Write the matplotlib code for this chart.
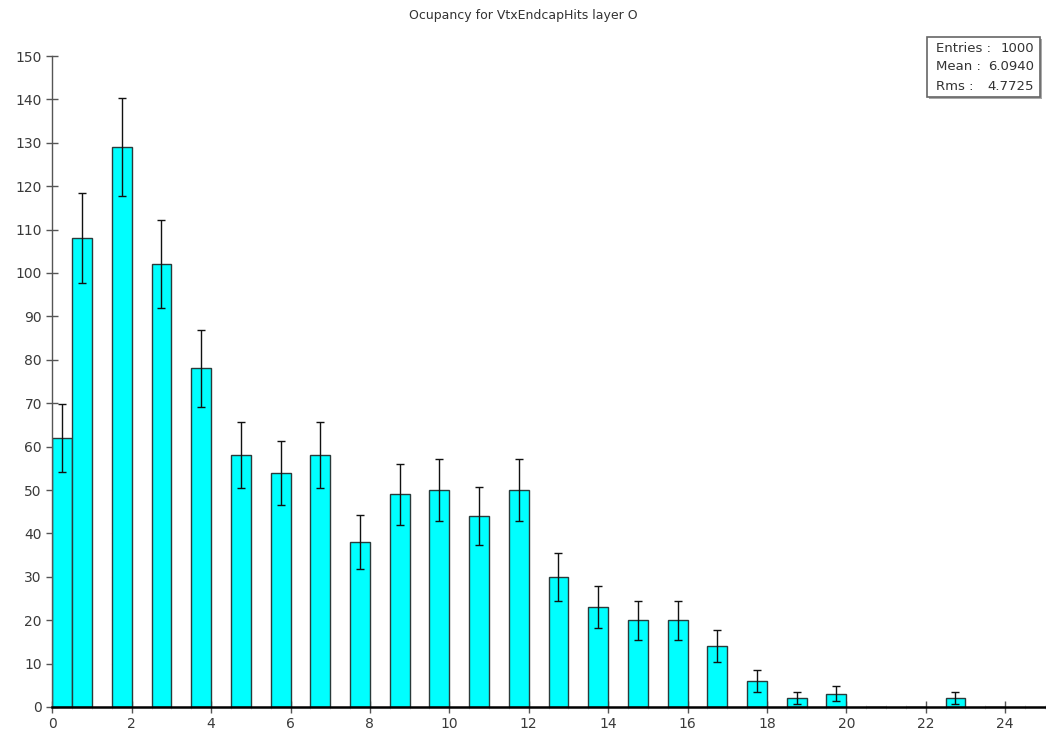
import numpy as np
import matplotlib
matplotlib.use("Agg")
import matplotlib.pyplot as plt
from matplotlib.ticker import MultipleLocator

hits = list(range(25))
counts = [62, 108, 129, 102, 78, 58, 54, 58, 38, 49, 50, 44, 50, 30, 23, 20, 20, 14, 6, 2, 3, 0, 0, 2, 0]
title = "Ocupancy for VtxEndcapHits layer O"
stat_labels = ["Entries :", "Mean :", "Rms :"]
stat_values = ["1000", "6.0940", "4.7725"]

plt.rcParams['font.family'] = ['DejaVu Sans']

fig = plt.figure(figsize=(10.46, 7.35), dpi=100)
ax = fig.add_axes([52.3/1046, 28/735, (1044.8-52.3)/1046, (707-56)/735])

counts_arr = np.array(counts, dtype=float)
left = np.array([max(k - 0.5, 0.0) for k in hits])
right = np.array([k if k > 0 else 0.5 for k in hits], dtype=float)
width = right - left
centers = left + width / 2

ax.bar(left, counts_arr, width=width, align='edge', color='#00FFFF',
       edgecolor='#2a3a3a', linewidth=1.0, zorder=2)
mask = counts_arr > 0
err = np.sqrt(counts_arr)
ax.errorbar(centers[mask], counts_arr[mask], yerr=err[mask], fmt='none',
            ecolor='#111111', elinewidth=1.0, capsize=3, capthick=1.0, zorder=3)

ax.set_xlim(0, 25)
ax.set_ylim(0, 150)
ax.xaxis.set_major_locator(MultipleLocator(2))
ax.xaxis.set_minor_locator(MultipleLocator(0.5))
ax.yaxis.set_major_locator(MultipleLocator(10))

for s in ['top', 'right']:
    ax.spines[s].set_visible(False)
ax.spines['left'].set_color('#555555')
ax.spines['left'].set_linewidth(1.0)
ax.spines['bottom'].set_color('#000000')
ax.spines['bottom'].set_linewidth(1.8)
ax.spines['bottom'].set_zorder(4)

ax.tick_params(axis='both', which='major', direction='inout', length=9,
               width=1.0, color='#555555', labelsize=10, labelcolor='#3a3a3a', pad=3)
ax.tick_params(axis='x', which='minor', direction='inout', length=3,
               width=0.5, color='#c8c8c8')
ax.set_facecolor('white')

fig.text(0.5, 1 - 15/735, title, ha='center', va='center', fontsize=9, color='#333333')

# stats box
bx0, bx1 = 927/1046, 1040/1046
by0, by1 = 1 - 97/735, 1 - 37/735
shadow = plt.Rectangle((bx0 + 1.5/1046, by0 - 1.5/735), bx1 - bx0, by1 - by0,
                       transform=fig.transFigure, facecolor='#aaaaaa',
                       edgecolor='none', zorder=9)
fig.add_artist(shadow)
rect = plt.Rectangle((bx0, by0), bx1 - bx0, by1 - by0, transform=fig.transFigure,
                     facecolor='white', edgecolor='#666666', linewidth=1.2, zorder=10)
fig.add_artist(rect)
ys = [48, 67, 86]
for lab, val, yy in zip(stat_labels, stat_values, ys):
    fig.text(936/1046, 1 - yy/735, lab, ha='left', va='center', fontsize=9.5,
             color='#333333', zorder=11)
    fig.text(1034/1046, 1 - yy/735, val, ha='right', va='center', fontsize=9.5,
             color='#333333', zorder=11)

fig.savefig("out.png", dpi=100)
